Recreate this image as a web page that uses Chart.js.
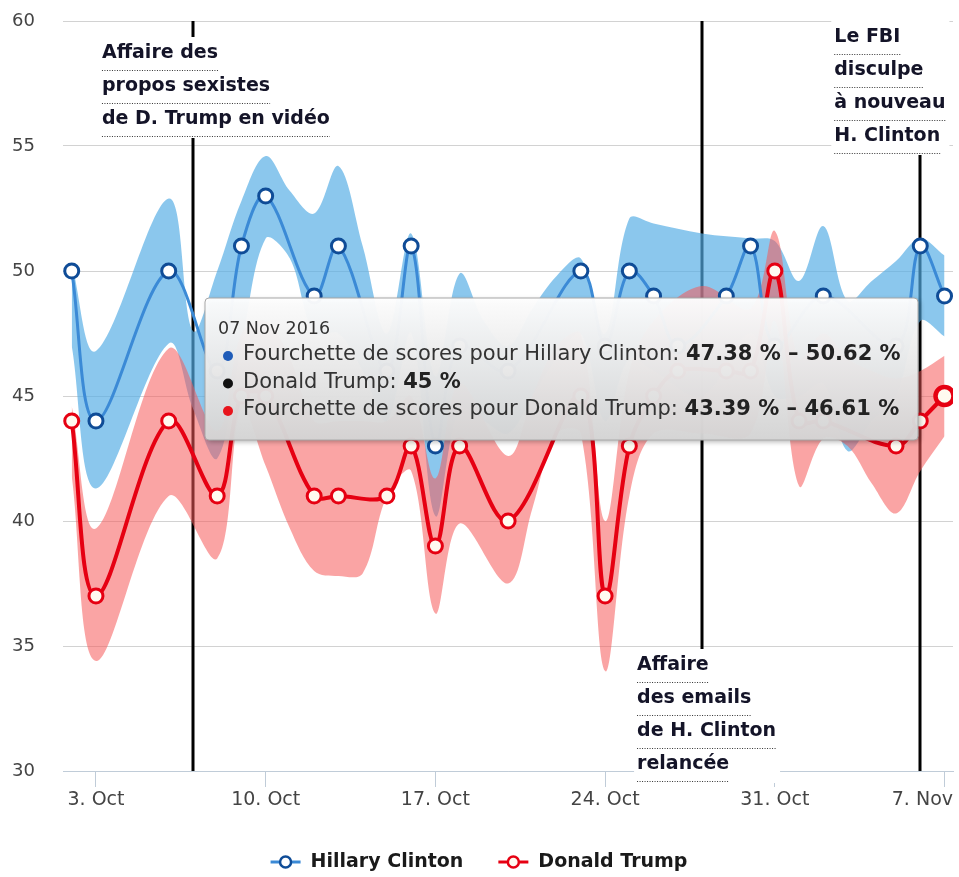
<!DOCTYPE html>
<html lang="fr">
<head>
    <meta charset="UTF-8">
    <title>Sondages Clinton / Trump - octobre / novembre 2016</title>
    <script src="https://cdn.jsdelivr.net/npm/chart.js"></script>
    <style>
        html, body { margin: 0; padding: 0; background: #fff; }
        #wrap { width: 959px; height: 877px; }
    </style>
</head>
<body>
<div id="wrap"><canvas id="pollChart" width="959" height="877"></canvas></div>
<script>
    // --- sondages (lignes) ---
    const clintonDates = ['2016-10-02','2016-10-03','2016-10-06','2016-10-08','2016-10-09','2016-10-10','2016-10-12','2016-10-13','2016-10-15','2016-10-16','2016-10-17','2016-10-18','2016-10-20','2016-10-23','2016-10-24','2016-10-25','2016-10-26','2016-10-27','2016-10-29','2016-10-30','2016-10-31','2016-11-02','2016-11-05','2016-11-06','2016-11-07'];
    const clintonScores = [50, 44, 50, 46, 51, 53, 49, 51, 46, 51, 43, 47, 46, 50, 47, 50, 49, 47, 49, 51, 47, 49, 47, 51, 49];

    const trumpDates = ['2016-10-02','2016-10-03','2016-10-06','2016-10-08','2016-10-09','2016-10-10','2016-10-12','2016-10-13','2016-10-15','2016-10-16','2016-10-17','2016-10-18','2016-10-20','2016-10-23','2016-10-24','2016-10-25','2016-10-26','2016-10-27','2016-10-29','2016-10-30','2016-10-31','2016-11-01','2016-11-02','2016-11-05','2016-11-06','2016-11-07'];
    const trumpScores = [44, 37, 44, 41, 45, 45, 41, 41, 41, 43, 39, 43, 40, 45, 37, 43, 45, 46, 46, 46, 50, 44, 44, 43, 44, 45];

    // --- fourchettes (marges d'erreur) ---
    const clintonBandDates = ['2016-10-02','2016-10-03','2016-10-06','2016-10-07','2016-10-08','2016-10-09','2016-10-10','2016-10-11','2016-10-12','2016-10-13','2016-10-14','2016-10-15','2016-10-16','2016-10-17','2016-10-18','2016-10-19','2016-10-20','2016-10-21','2016-10-22','2016-10-23','2016-10-24','2016-10-25','2016-10-26','2016-10-28','2016-10-30','2016-10-31','2016-11-01','2016-11-02','2016-11-03','2016-11-04','2016-11-05','2016-11-06','2016-11-07'];
    const clintonBandLow  = [47.0, 41.3, 47.1, 44.5, 42.5, 47.0, 51.3, 50.5, 47.5, 47.5, 46.0, 44.0, 47.5, 40.2, 44.5, 44.0, 43.5, 45.0, 46.5, 47.5, 44.0, 46.5, 46.0, 45.0, 47.5, 45.0, 45.0, 45.5, 42.8, 44.0, 45.0, 48.0, 47.38];
    const clintonBandHigh = [50.3, 46.8, 52.9, 47.6, 50.0, 52.8, 54.6, 53.2, 52.3, 54.2, 51.0, 47.5, 51.5, 45.8, 49.9, 48.0, 47.0, 48.5, 49.8, 50.5, 47.5, 52.1, 51.9, 51.5, 51.3, 51.2, 49.6, 51.8, 48.8, 49.6, 50.4, 51.3, 50.62];

    const trumpBandDates = ['2016-10-02','2016-10-03','2016-10-06','2016-10-08','2016-10-09','2016-10-10','2016-10-11','2016-10-12','2016-10-13','2016-10-14','2016-10-15','2016-10-16','2016-10-17','2016-10-18','2016-10-20','2016-10-21','2016-10-22','2016-10-23','2016-10-24','2016-10-25','2016-10-26','2016-10-28','2016-10-30','2016-10-31','2016-11-01','2016-11-02','2016-11-03','2016-11-04','2016-11-05','2016-11-06','2016-11-07'];
    const trumpBandLow  = [41.8, 34.4, 41.0, 38.5, 44.5, 42.2, 39.7, 38.0, 37.8, 37.9, 41.0, 42.0, 36.3, 39.9, 37.5, 40.5, 43.5, 43.5, 34.0, 41.0, 43.5, 43.5, 43.5, 48.0, 41.4, 43.3, 43.0, 41.5, 40.3, 42.0, 43.39];
    const trumpBandHigh = [44.6, 39.7, 46.9, 43.6, 47.5, 48.0, 46.5, 44.0, 44.0, 44.0, 44.0, 45.0, 41.7, 45.5, 42.6, 45.0, 47.0, 47.5, 40.0, 46.0, 48.0, 49.4, 48.5, 51.6, 46.5, 47.5, 46.5, 46.0, 45.7, 46.0, 46.61];

    // --- axes ---
    const tickDates = ['2016-10-03','2016-10-10','2016-10-17','2016-10-24','2016-10-31','2016-11-07'];
    const tickLabels = ['3. Oct', '10. Oct', '17. Oct', '24. Oct', '31. Oct', '7. Nov'];
    const yTicks = [30, 35, 40, 45, 50, 55, 60];

    // --- événements ---
    const eventDates = ['2016-10-07', '2016-10-28', '2016-11-06'];
    const eventLabels = [
        ['Affaire des', 'propos sexistes', 'de D. Trump en vidéo'],
        ['Affaire', 'des emails', 'de H. Clinton', 'relancée'],
        ['Le FBI', 'disculpe', 'à nouveau', 'H. Clinton']
    ];
    const tooltipDate = '07 Nov 2016';

    const startDate = '2016-10-02';
    function dayIndex(d) {
        return (Date.parse(d + 'T00:00:00Z') - Date.parse(startDate + 'T00:00:00Z')) / 86400000;
    }
    function toXY(dates, values) {
        return dates.map((d, i) => ({ x: dayIndex(d), y: values[i] }));
    }

    const FONT = "'DejaVu Sans', sans-serif";
    const BLUE_LINE = '#3b8ad6', BLUE_DARK = '#0f4c97', BLUE_BAND = 'rgba(84,172,228,0.68)';
    const RED_LINE = '#e60012', RED_BAND = 'rgba(245,90,90,0.55)';

    // position des étiquettes d'événements (décalage x par rapport à la ligne, centre de la 1re ligne)
    const eventLabelPos = [
        { dx: -91, y: 53 },
        { dx: -65, y: 665 },
        { dx: -86, y: 37 }
    ];

    // lignes verticales des événements (sous les séries)
    const eventLinesPlugin = {
        id: 'eventLines',
        beforeDatasetsDraw(chart) {
            const { ctx, chartArea, scales: { x } } = chart;
            ctx.save();
            ctx.strokeStyle = '#000';
            ctx.lineWidth = 3;
            eventDates.forEach(d => {
                const px = Math.round(x.getPixelForValue(dayIndex(d)));
                ctx.beginPath();
                ctx.moveTo(px, chartArea.top);
                ctx.lineTo(px, chartArea.bottom);
                ctx.stroke();
            });
            ctx.restore();
        },
        afterDatasetsDraw(chart) {
            const { ctx, chartArea, scales: { x } } = chart;
            ctx.save();
            ctx.font = 'bold 19px ' + FONT;
            ctx.textBaseline = 'middle';
            eventDates.forEach((d, k) => {
                const lines = eventLabels[k];
                const pos = eventLabelPos[k];
                const left = x.getPixelForValue(dayIndex(d)) + pos.dx;
                const widths = lines.map(t => ctx.measureText(t).width);
                const maxW = Math.max(...widths);
                const top = Math.max(pos.y - 16, chartArea.top - 1);
                const bottom = pos.y + (lines.length - 1) * 33 + 19;
                ctx.fillStyle = '#fff';
                ctx.fillRect(left - 3, top, maxW + 7, bottom - top);
                lines.forEach((t, i) => {
                    const cy = pos.y + i * 33;
                    ctx.fillStyle = '#141428';
                    ctx.fillText(t, left, cy);
                    ctx.strokeStyle = '#333';
                    ctx.lineWidth = 1;
                    ctx.setLineDash([1, 1.5]);
                    ctx.beginPath();
                    ctx.moveTo(left, cy + 17.5);
                    ctx.lineTo(left + widths[i], cy + 17.5);
                    ctx.stroke();
                    ctx.setLineDash([]);
                });
            });
            ctx.restore();
        }
    };

    // libellés de l'axe x (le dernier est ramené dans la zone du graphique)
    const xLabelsPlugin = {
        id: 'xLabels',
        afterDraw(chart) {
            const { ctx, chartArea, scales: { x } } = chart;
            ctx.save();
            ctx.font = '19px ' + FONT;
            ctx.fillStyle = '#444';
            ctx.textBaseline = 'middle';
            ctx.textAlign = 'left';
            tickDates.forEach((d, i) => {
                const px = x.getPixelForValue(dayIndex(d));
                const w = ctx.measureText(tickLabels[i]).width;
                let left = px - w / 2;
                if (left + w > chartArea.right) left = chartArea.right - w;
                ctx.fillText(tickLabels[i], left, chartArea.bottom + 29);
            });
            ctx.restore();
        }
    };

    // info-bulle figée sur le 7 novembre
    const tooltipPlugin = {
        id: 'fixedTooltip',
        afterDraw(chart) {
            const ctx = chart.ctx;
            const bx = 205, by = 298, bw = 713, bh = 142, r = 4;
            ctx.save();
            ctx.shadowColor = 'rgba(0,0,0,0.3)';
            ctx.shadowBlur = 5;
            ctx.shadowOffsetX = 2;
            ctx.shadowOffsetY = 2;
            const g = ctx.createLinearGradient(0, by, 0, by + bh);
            g.addColorStop(0, 'rgba(255,255,255,0.96)');
            g.addColorStop(1, 'rgba(214,214,214,0.96)');
            ctx.fillStyle = g;
            ctx.beginPath();
            ctx.roundRect(bx, by, bw, bh, r);
            ctx.fill();
            ctx.shadowColor = 'transparent';
            ctx.strokeStyle = '#a8a8a8';
            ctx.lineWidth = 1;
            ctx.stroke();

            const ci = clintonBandDates.length - 1;
            const ti = trumpBandDates.length - 1;
            const rows = [
                { color: '#1f5cb8', label: 'Fourchette de scores pour Hillary Clinton: ', value: clintonBandLow[ci].toFixed(2) + ' % \u2013 ' + clintonBandHigh[ci].toFixed(2) + ' %' },
                { color: '#111', label: 'Donald Trump: ', value: trumpScores[trumpScores.length - 1] + ' %' },
                { color: '#e8141c', label: 'Fourchette de scores pour Donald Trump: ', value: trumpBandLow[ti].toFixed(2) + ' % \u2013 ' + trumpBandHigh[ti].toFixed(2) + ' %' }
            ];
            ctx.textBaseline = 'middle';
            ctx.fillStyle = '#333';
            ctx.font = '17.5px ' + FONT;
            ctx.fillText(tooltipDate, 218, 329);
            rows.forEach((row, i) => {
                const cy = 355 + i * 27.5;
                ctx.fillStyle = row.color;
                ctx.beginPath();
                ctx.arc(228, cy + 1, 5, 0, Math.PI * 2);
                ctx.fill();
                ctx.fillStyle = '#333';
                ctx.font = '21px ' + FONT;
                ctx.fillText(row.label, 243, cy);
                const w = ctx.measureText(row.label).width;
                ctx.fillStyle = '#222';
                ctx.font = 'bold 21px ' + FONT;
                ctx.fillText(row.value, 243 + w, cy);
            });
            ctx.restore();
        }
    };

    // légende en bas
    const legendPlugin = {
        id: 'customLegend',
        afterDraw(chart) {
            const ctx = chart.ctx;
            const items = [
                { label: chart.data.datasets[4].label, line: BLUE_LINE, border: BLUE_DARK, fill: '#fff' },
                { label: chart.data.datasets[5].label, line: RED_LINE, border: RED_LINE, fill: '#fffaf0' }
            ];
            ctx.save();
            ctx.font = 'bold 19px ' + FONT;
            ctx.textBaseline = 'middle';
            const widths = items.map(it => ctx.measureText(it.label).width);
            const total = widths.reduce((a, b) => a + b, 0) + items.length * 40 + 35 * (items.length - 1);
            let cx = 479 - total / 2;
            const cy = 862;
            items.forEach((it, i) => {
                ctx.strokeStyle = it.line;
                ctx.lineWidth = 3;
                ctx.beginPath();
                ctx.moveTo(cx, cy);
                ctx.lineTo(cx + 30, cy);
                ctx.stroke();
                ctx.beginPath();
                ctx.arc(cx + 15, cy, 5.5, 0, Math.PI * 2);
                ctx.fillStyle = it.fill;
                ctx.fill();
                ctx.strokeStyle = it.border;
                ctx.lineWidth = 2.5;
                ctx.stroke();
                ctx.fillStyle = '#1a1a1a';
                ctx.fillText(it.label, cx + 40, cy);
                cx += 40 + widths[i] + 35;
            });
            ctx.restore();
        }
    };

    const lastTrump = trumpScores.length - 1;

    new Chart(document.getElementById('pollChart'), {
        type: 'line',
        data: {
            datasets: [
                { label: 'Clinton bas', data: toXY(clintonBandDates, clintonBandLow), borderWidth: 0, pointRadius: 0, tension: 0.35, fill: false, order: 5 },
                { label: 'Fourchette de scores pour Hillary Clinton', data: toXY(clintonBandDates, clintonBandHigh), borderWidth: 0, pointRadius: 0, tension: 0.35, fill: { target: 0 }, backgroundColor: BLUE_BAND, order: 4 },
                { label: 'Trump bas', data: toXY(trumpBandDates, trumpBandLow), borderWidth: 0, pointRadius: 0, tension: 0.35, fill: false, order: 3 },
                { label: 'Fourchette de scores pour Donald Trump', data: toXY(trumpBandDates, trumpBandHigh), borderWidth: 0, pointRadius: 0, tension: 0.35, fill: { target: 2 }, backgroundColor: RED_BAND, order: 2 },
                {
                    label: 'Hillary Clinton', data: toXY(clintonDates, clintonScores),
                    borderColor: BLUE_LINE, borderWidth: 3, tension: 0.35, fill: false,
                    pointRadius: 7, pointBorderWidth: 3, pointBackgroundColor: '#fff', pointBorderColor: BLUE_DARK, order: 1
                },
                {
                    label: 'Donald Trump', data: toXY(trumpDates, trumpScores),
                    borderColor: RED_LINE, borderWidth: 4, tension: 0.35, fill: false,
                    pointRadius: ctx => ctx.dataIndex === lastTrump ? 9 : 7,
                    pointBorderWidth: ctx => ctx.dataIndex === lastTrump ? 4.5 : 3,
                    pointBackgroundColor: '#fffaf0', pointBorderColor: RED_LINE, order: 0
                }
            ]
        },
        options: {
            responsive: false,
            animation: false,
            events: [],
            layout: { autoPadding: false, padding: { left: 0, top: 21, right: 6, bottom: 0 } },
            plugins: {
                legend: { display: false },
                tooltip: { enabled: false }
            },
            scales: {
                x: {
                    type: 'linear',
                    min: dayIndex(startDate) - 0.36,
                    max: dayIndex('2016-11-07') + 0.35,
                    afterBuildTicks: scale => { scale.ticks = tickDates.map(d => ({ value: dayIndex(d) })); },
                    afterFit: scale => { scale.height = 106; scale.paddingLeft = 0; scale.paddingRight = 0; },
                    ticks: { display: false },
                    grid: { drawOnChartArea: false, drawTicks: true, tickLength: 16, color: '#c0ccd8', lineWidth: 1 },
                    border: { color: '#c0ccd8', width: 1 }
                },
                y: {
                    min: 30,
                    max: 60,
                    afterBuildTicks: scale => { scale.ticks = yTicks.map(v => ({ value: v })); },
                    afterFit: scale => { scale.width = 63; scale.paddingTop = 0; scale.paddingBottom = 0; },
                    ticks: { padding: 28, color: '#444', font: { family: FONT, size: 18 } },
                    grid: { color: '#d2d2d2', lineWidth: 1, drawTicks: false },
                    border: { display: false }
                }
            }
        },
        plugins: [eventLinesPlugin, xLabelsPlugin, tooltipPlugin, legendPlugin]
    });
</script>
</body>
</html>
